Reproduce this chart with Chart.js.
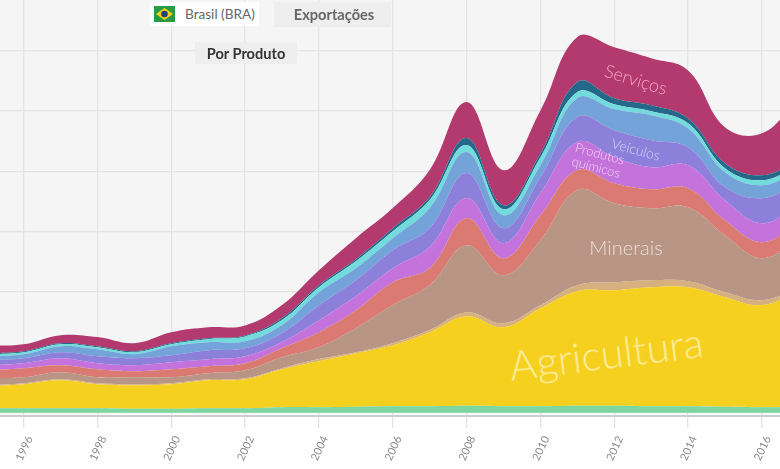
<!DOCTYPE html>
<html lang="pt"><head><meta charset="utf-8">
<script src="https://cdn.jsdelivr.net/npm/chart.js@4"></script>
<style>
html,body{margin:0;padding:0;background:#fff;width:780px;height:469px;overflow:hidden}
#wrap{position:relative;width:780px;height:469px;font-family:Lato,"Noto Sans",sans-serif}
canvas{position:absolute;left:0;top:0}
.box{position:absolute;display:flex;align-items:center;justify-content:center;font-size:14.6px}
.lab{position:absolute;transform:translate(-50%,-50%) rotate(var(--r));white-space:nowrap;text-align:center}
</style></head><body>
<div id="wrap">
<canvas id="c" width="780" height="469"></canvas>
<div class="box" style="left:150px;top:2px;width:109px;height:24px;background:#fff;color:#666;justify-content:flex-start;font-size:13.6px">
<svg width="21" height="16" viewBox="0 0 21 16" style="margin:0 10px 0 4px"><rect width="21" height="16" fill="#2a9a45"/><path d="M10.5 2 19 8 10.5 14 2 8Z" fill="#f2d21b"/><circle cx="10.5" cy="8" r="3.3" fill="#23407f"/></svg>Brasil (BRA)</div>
<div class="box" style="left:274px;top:2px;width:117px;height:25px;background:#eee;color:#666;font-weight:700;padding-left:3px;box-sizing:border-box">Exportações</div>
<div class="box" style="left:195px;top:42px;width:102px;height:22px;background:#eee;color:#333;font-weight:700">Por Produto</div>
<div class="lab" style="left:636px;top:79px;--r:17deg;font-size:18px;font-weight:300;color:#f4a6c6">Serviços</div>
<div class="lab" style="left:636px;top:149px;--r:15deg;font-size:14px;font-weight:300;color:#d9d3f7">Veículos</div>
<div class="lab" style="left:598px;top:160px;--r:15deg;font-size:13px;line-height:14px;font-weight:300;color:#f6d2f6">Produtos<br>químicos</div>
<div class="lab" style="left:626px;top:247px;--r:0deg;font-size:20px;font-weight:300;color:#ecdcd6">Minerais</div>
<div class="lab" style="left:606px;top:353px;--r:-7deg;font-size:41.5px;font-weight:300;color:#fbeea0">Agricultura</div>
</div>
<script>
const years=[1995,1996,1997,1998,1999,2000,2001,2002,2003,2004,2005,2006,2007,2008,2009,2010,2011,2012,2013,2014,2015,2016,2017];
const xTicks=[1996,1998,2000,2002,2004,2006,2008,2010,2012,2014,2016];
const yTicks=[0,50,100,150,200,250,300];
const servicosOutros=[3.7,3.7,3.7,3.7,3.3,3.3,3.7,3.7,4.6,4.6,5.0,5.4,5.4,5.8,5.4,5.4,5.8,5.8,5.4,5.4,5.0,4.6,4.6];
const agricultura=[18.2,19.9,23.2,19.9,19.5,20.3,23.2,24.0,31.5,38.1,44.3,50.5,61.3,74.1,65.4,81.1,94.8,95.6,98.5,98.5,90.7,84.5,96.0];
const pedras=[0.8,0.8,0.8,0.8,0.8,0.8,0.8,0.8,0.8,1.7,0.8,1.7,1.7,3.3,3.3,2.5,5.0,6.6,5.8,5.0,4.1,4.1,2.5];
const minerais=[5.8,5.0,5.8,5.0,5.8,5.0,5.0,6.6,9.1,9.9,19.9,31.5,37.3,55.5,39.7,53.8,78.7,65.4,59.6,61.3,47.2,34.8,41.4];
const metais=[6.6,7.5,5.8,6.6,5.0,6.6,5.8,5.8,7.5,12.4,14.9,19.0,14.1,22.4,14.1,20.7,16.6,16.6,15.7,15.7,12.4,13.2,13.2];
const quimicos=[4.1,4.1,5.8,5.0,5.0,5.8,5.8,5.8,5.0,9.9,11.6,11.6,17.4,16.6,12.4,18.2,23.2,21.5,18.2,19.0,16.6,15.7,15.7];
const veiculos=[4.1,4.1,5.0,5.8,5.8,5.8,7.5,6.6,7.5,12.4,13.2,14.9,15.7,20.7,12.4,13.2,20.7,22.4,22.4,14.9,10.8,20.7,17.4];
const maquinas=[3.3,3.3,5.0,5.8,3.3,7.5,6.6,5.8,6.6,10.8,9.9,9.9,16.6,17.4,10.8,9.9,15.7,17.4,20.7,15.7,12.4,10.8,9.9];
const eletronicos=[1.7,1.7,1.7,1.7,1.7,1.7,2.5,4.1,4.1,4.1,5.8,5.8,6.6,5.8,5.0,6.6,5.0,4.1,3.3,4.1,3.3,4.1,4.1];
const outros=[0.8,0.8,0.8,0.8,0.8,0.8,0.8,0.8,1.7,1.7,1.7,2.5,2.5,5.8,3.3,3.3,8.3,5.0,5.0,4.1,4.1,4.1,4.1];
const servicos=[6.6,5.8,6.6,7.5,6.6,9.1,9.1,8.3,10.8,12.4,17.4,16.6,22.4,29.8,29.0,35.6,37.3,42.2,38.9,39.7,29.8,34.8,52.0];
const seriesNames=["Têxteis","Agricultura","Pedras","Minerais","Metais","Produtos químicos","Veículos","Máquinas","Eletrônicos","Outros","Serviços"];
const seriesValues=[servicosOutros,agricultura,pedras,minerais,metais,quimicos,veiculos,maquinas,eletronicos,outros,servicos];
const seriesColors=["#7bd6a0","#f6d01f","#d6b07f","#b89585","#db7a72","#c373db","#8d80db","#74a3d9","#72dcdc","#26688a","#b33a6e"];
const plotBackground={id:'plotBackground',beforeDraw(ch){
  const g=ch.ctx,a=ch.chartArea,z=ch.scales.y.getPixelForValue(0);
  g.save();g.fillStyle='#f5f5f5';g.fillRect(a.left,a.top,a.width,z-a.top);g.restore();
}};
new Chart(document.getElementById('c'),{
  type:'line',
  data:{datasets:seriesNames.map((n,i)=>({
    label:n,
    data:years.map((y,k)=>({x:y,y:seriesValues[i][k]})),
    backgroundColor:seriesColors[i],borderColor:seriesColors[i],borderWidth:0,
    fill:i===0?'origin':'-1',pointRadius:0,tension:0.4
  }))},
  plugins:[plotBackground],
  options:{
    responsive:false,animation:false,
    layout:{padding:0},
    plugins:{legend:{display:false},tooltip:{enabled:false}},
    scales:{
      x:{type:'linear',min:1995.36,max:2016.49,
        afterBuildTicks:s=>{s.ticks=xTicks.map(v=>({value:v}))},
        afterFit:s=>{s.height=53},
        grid:{color:'#e4e4e4',lineWidth:1.3,drawTicks:true,tickLength:12},
        border:{color:'#cccccc',width:2},
        ticks:{callback:v=>String(v),minRotation:65,maxRotation:65,autoSkip:false,labelOffset:6,padding:6,color:'#8a8a8a',font:{family:'Lato',size:11}}
      },
      y:{stacked:true,min:-2.7,max:341.7,
        afterBuildTicks:s=>{s.ticks=yTicks.map(v=>({value:v}))},
        afterFit:s=>{s.width=0},
        grid:{color:'#e4e4e4',lineWidth:1.3,drawTicks:false},
        border:{display:false},
        ticks:{display:false}
      }
    }
  }
});
</script>
</body></html>
